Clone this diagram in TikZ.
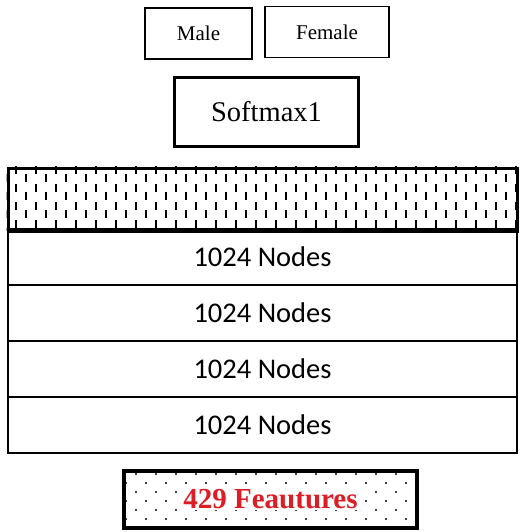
\documentclass[tikz,border=0pt]{standalone}
\usepackage{fontspec}
\setmainfont{Liberation Serif}
\newfontfamily\layerfont{Carlito}
\usetikzlibrary{positioning,backgrounds}
\definecolor{featred}{RGB}{222,28,36}
\tikzset{
  outbox/.style={
    draw=black,
    line width=1.4pt,
    inner sep=0pt,
    minimum height=51pt,
    font=\fontsize{21}{24}\selectfont
  },
  smbox/.style={draw=black, line width=3.2pt, inner sep=0pt, font=\fontsize{28.5}{32}\selectfont},
  layerbox/.style={draw=black, line width=1.8pt, inner sep=0pt, minimum width=509pt,
    minimum height=56pt, font=\layerfont\fontsize{28.5}{32}\selectfont},
  hatchbox/.style={draw=black, line width=3pt, inner sep=0pt, minimum width=509pt, minimum height=61pt},
  featbox/.style={draw=black, line width=4pt, inner sep=0pt, minimum width=293pt,
    minimum height=57pt, font=\bfseries\fontsize{29}{32}\selectfont},
  dashmark/.style={line width=2.2pt, black},
  dotmark/.style={fill=black},
}
\setlength{\fboxsep}{1pt}

\begin{document}
\begin{tikzpicture}[x=1pt, y=-1pt]
  \useasboundingbox (0,0) rectangle (521,532);
  % dotted input field
  \begin{scope}
    \clip (124,471) rectangle (417,528);
    \foreach \j in {0,...,6} {
      \foreach \i in {0,...,16} {
        \fill[dotmark] ({116+10*mod(\j,2)+20*\i},{474+9*\j}) circle (1.2pt);
      }
    }
  \end{scope}
  % output classes
  \node[outbox, minimum width=107pt] (male) at (198.5,33.5) {Male};
  \node[outbox, minimum width=124pt, yshift=1.5pt] (female) at (327,33.5) {Female};
  \node[smbox, minimum width=184pt, minimum height=69pt] (softmax) at (266.5,112) {Softmax1};
  % hidden layers
  \foreach \i in {1,...,4} {
    \node[layerbox] (hid\i) at (262.5,{229+56*\i-28}) {1024 Nodes};
  }
  \node[hatchbox] (hatch) at (262.5,198.5) {};
  \draw[line width=4.5pt] (hatch.south west) -- (hatch.south east);
  \begin{scope}[on background layer]
    \clip (hatch.south west) rectangle (hatch.north east);
    \foreach \k in {0,...,51} {
      \pgfmathsetmacro{\dx}{6+10*\k}
      \pgfmathsetmacro{\dy}{170+8*mod(\k+1,2)}
      \foreach \j in {0,...,3}
        \draw[dashmark] (\dx,{\dy+18*\j-4}) -- ++(0,8);
    }
  \end{scope}
  % input
  \node[featbox] (feat) at (270.5,499.5) {\colorbox{white}{\textcolor{featred}{429 Feautures}}};
\end{tikzpicture}
\end{document}
